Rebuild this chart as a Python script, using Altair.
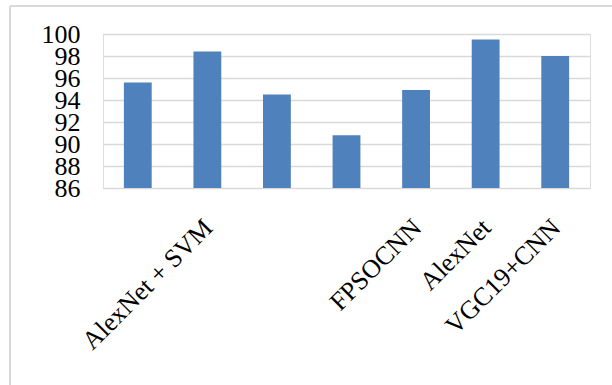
import altair as alt
import pandas as pd

# Accuracy (%) per method; slots without a printed name keep an empty label
methods = ["", "AlexNet + SVM", "", "", "FPSOCNN", "AlexNet", "VGC19+CNN"]
accuracy = [95.6, 98.4, 94.5, 90.8, 94.9, 99.5, 98.0]
y_ticks = [86, 88, 90, 92, 94, 96, 98, 100]

df = pd.DataFrame({"slot": list(range(len(methods))), "accuracy": accuracy})

label_list = "[" + ",".join("'" + m + "'" for m in methods) + "]"

FONT = "Liberation Serif"
GRID = "#d9d9d9"

bars = alt.Chart(df).mark_bar(color="#4f81bd", clip=True).encode(
    x=alt.X(
        "slot:O",
        title=None,
        scale=alt.Scale(paddingInner=0.6, paddingOuter=0.3),
        axis=alt.Axis(
            labelExpr=label_list + "[datum.value]",
            labelAngle=-45,
            labelAlign="right",
            labelBaseline="top",
            labelFont=FONT,
            labelFontSize=26,
            labelColor="black",
            labelPadding=26,
            labelOffset=-8,
            labelOverlap=False,
            ticks=False,
            domain=False,
        ),
    ),
    y=alt.Y(
        "accuracy:Q",
        title=None,
        scale=alt.Scale(domain=[86, 100], zero=False, nice=False),
        axis=alt.Axis(
            values=y_ticks,
            labelFont=FONT,
            labelFontSize=26,
            labelColor="black",
            labelPadding=23,
            labelOverlap=False,
            labelFlush=False,
            ticks=False,
            domain=False,
            grid=True,
            gridColor=GRID,
            gridWidth=1.5,
        ),
    ),
)

# Light frame around the chart (top and left edges)
frame_src = alt.Data(values=[{}])
frame_top = alt.Chart(frame_src).mark_rule(color=GRID, strokeWidth=2).encode(
    x=alt.value(-93), x2=alt.value(509), y=alt.value(-28)
)
frame_left = alt.Chart(frame_src).mark_rule(color=GRID, strokeWidth=2).encode(
    x=alt.value(-93), y=alt.value(-28), y2=alt.value(351)
)

chart = (
    alt.layer(frame_top, frame_left, bars)
    .properties(
        width=487,
        height=154,
        autosize=alt.AutoSizeParams(type="none"),
        padding={"left": 103, "top": 34, "right": 22, "bottom": 197},
    )
    .configure_view(stroke=None)
    .configure(background="white")
)

chart.save("out.html", embed_options={"renderer": "svg", "actions": False})
